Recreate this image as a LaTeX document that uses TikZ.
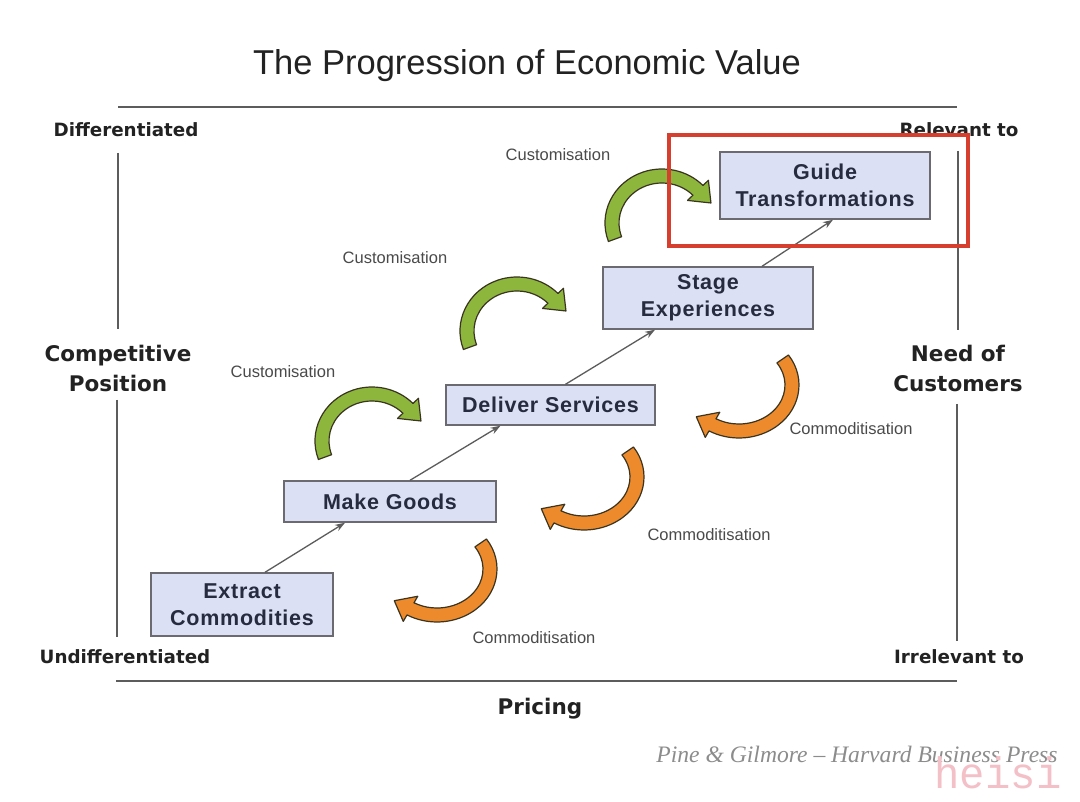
\documentclass[tikz,border=0pt]{standalone}
\usepackage{fontspec}
\setmainfont{Liberation Sans}
\newfontfamily\vfont{DejaVu Sans}
\newfontfamily\serifit{Liberation Serif}
\newfontfamily\monof{Liberation Mono}
\newfontfamily\boxfont[LetterSpace=3.5]{Liberation Sans}
\usetikzlibrary{calc,arrows.meta}
\definecolor{boxfill}{HTML}{DCE0F5}
\definecolor{boxline}{HTML}{6A6A70}
\definecolor{boxtext}{HTML}{262B40}
\definecolor{axisgray}{HTML}{5C5C5C}
\definecolor{labeltext}{HTML}{222222}
\definecolor{smalltext}{HTML}{4A4A4A}
\definecolor{greenfill}{HTML}{8DB63C}
\definecolor{orangefill}{HTML}{EC8A2C}
\definecolor{bandedge}{HTML}{3A3420}
\definecolor{redframe}{HTML}{D63E2E}
\definecolor{footgray}{HTML}{8C8C8C}
\definecolor{wmpink}{HTML}{F4C0C8}
\newcommand{\bandarrow}[9]{%
  \pgfmathsetmacro{\baTx}{#2+#4*cos(#7)}%
  \pgfmathsetmacro{\baTy}{#3+#5*sin(#7)}%
  \pgfmathsetmacro{\baDx}{-#4*sin(#7)}%
  \pgfmathsetmacro{\baDy}{#5*cos(#7)}%
  \pgfmathsetmacro{\baN}{sqrt(\baDx*\baDx+\baDy*\baDy)}%
  \pgfmathsetmacro{\baPx}{\baTx+1.25*#9*\baDx/\baN}%
  \pgfmathsetmacro{\baPy}{\baTy+1.25*#9*\baDy/\baN}%
  \filldraw[fill=#1, bandline]
    ({#2+(#4+#8)*cos(#6)},{#3+(#5+#8)*sin(#6)})
    arc[start angle=#6, end angle=#7, x radius={#4+#8}, y radius={#5+#8}]
    -- ({#2+(#4+#9)*cos(#7)},{#3+(#5+#9)*sin(#7)})
    -- (\baPx,\baPy)
    -- ({#2+(#4-#9)*cos(#7)},{#3+(#5-#9)*sin(#7)})
    -- ({#2+(#4-#8)*cos(#7)},{#3+(#5-#8)*sin(#7)})
    arc[start angle=#7, end angle=#6, x radius={#4-#8}, y radius={#5-#8}]
    -- cycle;
}
\begin{document}
\begin{tikzpicture}[x=1pt,y=-1pt,
  stagebox/.style={draw=boxline, line width=1.4pt, fill=boxfill, inner sep=0pt,
    align=center, text=boxtext, font=\boxfont\bfseries\fontsize{21.5}{27}\selectfont},
  sidelabel/.style={align=center, text=labeltext, inner sep=0pt},
  smalllabel/.style={text=smalltext, inner sep=0pt, font=\fontsize{16.5}{20}\selectfont},
  axisline/.style={draw=axisgray, line width=2.2pt},
  progress/.style={draw=axisgray, line width=1.3pt, -{Stealth[length=10pt,width=7pt]}},
  bandline/.style={draw=bandedge, line width=1.2pt, line join=round},
  frame/.style={draw=redframe, line width=3.6pt}]
\useasboundingbox (0,0) rectangle (1080,802);
\fill[white] (0,0) rectangle (1080,802);

% title
\node[text=labeltext, inner sep=0pt, font=\fontsize{34.5}{40}\selectfont] (title) at (527,66) {The Progression of Economic Value};

% axes
\draw[axisline] (118,107) -- (957,107);
\draw[axisline] (116,681) -- (957,681);
\draw[axisline] (118,153) -- (118,329);
\draw[axisline] (117,400) -- (117,637);
\draw[axisline] (958,151) -- (958,330);
\draw[axisline] (957,404) -- (957,641);

% side labels
\node[sidelabel, font=\vfont\bfseries\fontsize{18.3}{22}\selectfont] (diff) at (126,130) {Differentiated};
\node[sidelabel, font=\vfont\bfseries\fontsize{18.3}{22}\selectfont] (undiff) at (125,657) {Undifferentiated};
\node[sidelabel, font=\vfont\bfseries\fontsize{21.5}{30}\selectfont] (comp) at (118,368) {Competitive\\Position};
\node[sidelabel, font=\vfont\bfseries\fontsize{18.3}{22}\selectfont] (relev) at (959,130) {Relevant to};
\node[sidelabel, font=\vfont\bfseries\fontsize{18.3}{22}\selectfont] (irrel) at (959,657) {Irrelevant to};
\node[sidelabel, font=\vfont\bfseries\fontsize{21.5}{30}\selectfont] (need) at (958,368) {Need of\\Customers};
\node[sidelabel, font=\vfont\bfseries\fontsize{21.5}{26}\selectfont] (pricing) at (540,709) {Pricing};

% customisation arrows (green)
\bandarrow{greenfill}{372}{441}{50}{47}{160}{316}{7}{14.5}
\bandarrow{greenfill}{517}{331}{50}{47}{160}{316}{7}{14.5}
\bandarrow{greenfill}{662}{223}{50}{47}{160}{316}{7}{14.5}
% commoditisation arrows (orange)
\bandarrow{orangefill}{437}{569}{53}{46}{-34.5}{120}{7}{14.5}
\bandarrow{orangefill}{584}{477}{53}{46}{-34.5}{120}{7}{14.5}
\bandarrow{orangefill}{739}{385}{53}{46}{-34.5}{120}{7}{14.5}

% stages
\node[stagebox, minimum width=182pt, minimum height=63pt] (ec) at (242,604.5) {Extract\\Commodities};
\node[stagebox, minimum width=212pt, minimum height=41pt] (mg) at (390,501.5) {Make Goods};
\node[stagebox, minimum width=209pt, minimum height=40pt] (ds) at (550.5,405) {Deliver Services};
\node[stagebox, minimum width=210pt, minimum height=62pt] (se) at (708,298) {Stage\\Experiences};
\node[stagebox, minimum width=210pt, minimum height=67pt] (gt) at (825,185.5) {Guide\\Transformations};

% progression connectors
\draw[progress] ($(ec.north)+(23,0)$) -- ($(mg.south)+(-45,0)$);
\draw[progress] ($(mg.north)+(20,0)$) -- ($(ds.south)+(-50,0)$);
\draw[progress] ($(ds.north)+(15,0)$) -- ($(se.south)+(-53,0)$);
\draw[progress] ($(se.north)+(54,0)$) -- ($(gt.south)+(8,0)$);

% small labels
\node[smalllabel] (cus1) at (283,372) {Customisation};
\node[smalllabel] (cus2) at (395,258) {Customisation};
\node[smalllabel] (cus3) at (558,155) {Customisation};
\node[smalllabel] (com1) at (534,638) {Commoditisation};
\node[smalllabel] (com2) at (709,535) {Commoditisation};
\node[smalllabel] (com3) at (851,429) {Commoditisation};

% highlight frame
\draw[frame] (669,135) rectangle (968,246);

% footer
\node[text=footgray, inner sep=0pt, font=\serifit\itshape\fontsize{23.6}{28}\selectfont] (foot) at (857,754) {Pine \& Gilmore – Harvard Business Press};
\node[text=wmpink, inner sep=0pt, font=\monof\fontsize{44}{48}\selectfont] (wm) at (998,773) {\scalebox{0.96}[1]{heisi}};
\end{tikzpicture}
\end{document}
